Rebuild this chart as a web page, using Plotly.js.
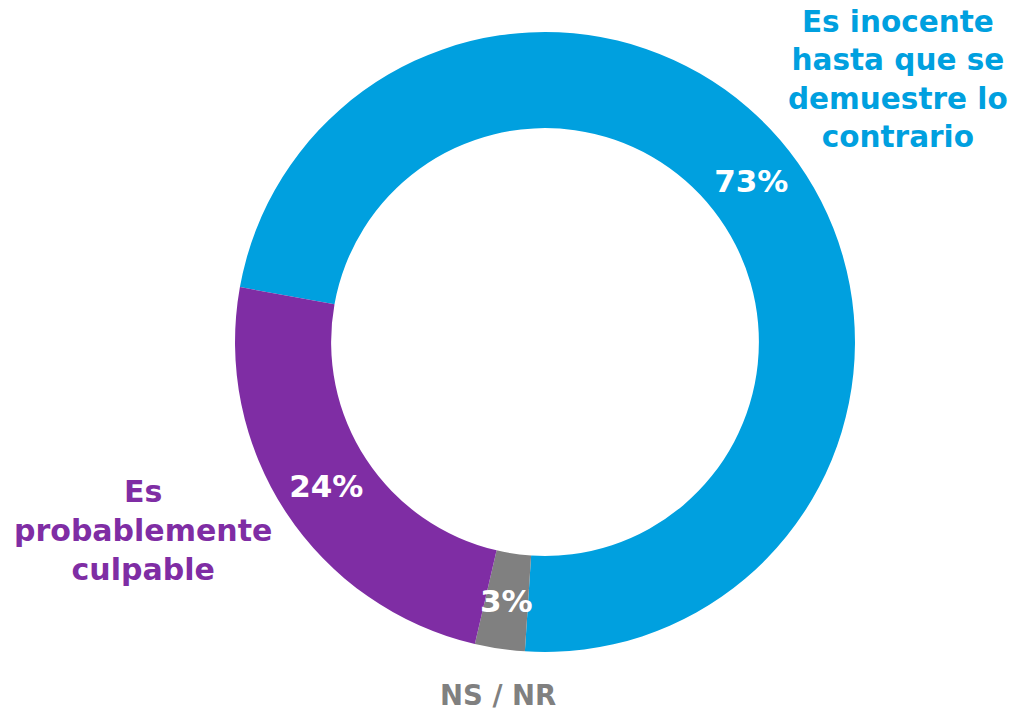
<!DOCTYPE html>
<html>
<head>
<meta charset="utf-8">
<script src="https://cdn.plot.ly/plotly-3.0.1.min.js"></script>
<style>html,body{margin:0;padding:0;background:#fff;}#chart{width:1015px;height:710px;}</style>
</head>
<body>
<div id="chart"></div>
<script>
const categories = ["Es inocente hasta que se demuestre lo contrario", "NS / NR", "Es probablemente culpable"];
const values = [73.2, 2.6, 24.2];
const pctLabels = ["73%", "3%", "24%"];
const outerLabels = ["Es inocente<br>hasta que se<br>demuestre lo<br>contrario", "NS / NR", "Es<br>probablemente<br>culpable"];
const colors = ["#00A0DF", "#808080", "#7F2DA4"];

const FONT = "DejaVu Sans, Montserrat, sans-serif";
const W = 1015, H = 710;
const domX = [0.2315, 0.8424], domY = [0.0817, 0.9549];
const rotation = -79.8;
const hole = 0.69;

// the gray slice is too narrow for Plotly's inside text (it would shrink it),
// so its label is placed as an annotation at the slice's mid-angle / mid-ring radius
const textPos = ["inside", "none", "inside"];

const data = [{
  type: "pie",
  labels: categories,
  values: values,
  text: pctLabels,
  textinfo: "text",
  textposition: textPos,
  insidetextorientation: "horizontal",
  hole: hole,
  sort: false,
  direction: "clockwise",
  rotation: rotation,
  marker: {colors: colors, line: {width: 0}},
  textfont: {family: FONT, size: 31, color: "#ffffff", weight: 700},
  domain: {x: domX, y: domY},
  showlegend: false,
  hoverinfo: "label+percent"
}];

// geometry of the donut in paper space, derived from the domain
const cxPx = (domX[0] + domX[1]) / 2 * W;
const cyPx = (1 - (domY[0] + domY[1]) / 2) * H;
const R = Math.min((domX[1] - domX[0]) * W, (domY[1] - domY[0]) * H) / 2;
const total = values.reduce((a, b) => a + b, 0);
const annotations = [];
let start = rotation;
values.forEach((v, i) => {
  const span = v / total * 360;
  const mid = (start + span / 2) * Math.PI / 180;
  start += span;
  if (textPos[i] === "none") {
    const r = R * (1 + hole) / 2;
    const px = cxPx + r * Math.sin(mid);
    const py = cyPx - r * Math.cos(mid);
    annotations.push({x: px / W, y: 1 - py / H, xref: "paper", yref: "paper", text: pctLabels[i],
      showarrow: false, xanchor: "center", yanchor: "middle",
      font: {family: FONT, size: 31, color: "#ffffff", weight: 700}});
  }
});

// category labels (pixel anchors converted to paper coords)
const labelSpecs = [
  {i: 0, x: 898, y: 80, size: 29.5},
  {i: 2, x: 143, y: 530, size: 30},
  {i: 1, x: 498, y: 695, size: 27.5}
];
labelSpecs.forEach(s => {
  annotations.push({x: s.x / W, y: 1 - s.y / H, xref: "paper", yref: "paper", text: outerLabels[s.i],
    showarrow: false, align: "center", xanchor: "center", yanchor: "middle",
    font: {family: FONT, size: s.size, color: colors[s.i], weight: 700}});
});

const layout = {
  width: W, height: H,
  margin: {l: 0, r: 0, t: 0, b: 0},
  paper_bgcolor: "#ffffff",
  showlegend: false,
  annotations: annotations
};

Plotly.newPlot("chart", data, layout, {displayModeBar: false, staticPlot: true});
</script>
</body>
</html>
